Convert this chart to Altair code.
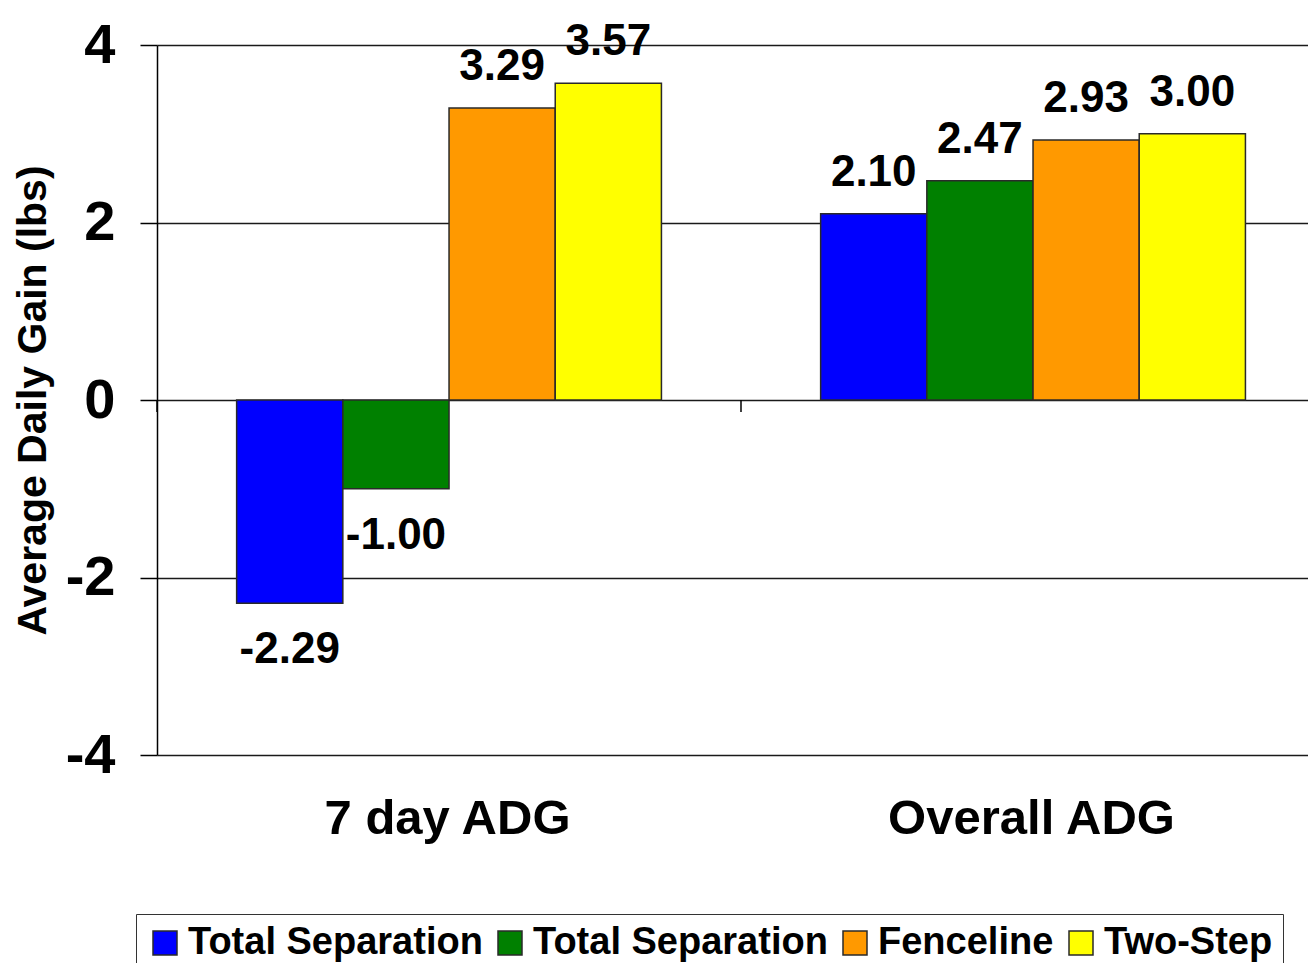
import altair as alt
import pandas as pd

categories = ["7 day ADG", "Overall ADG"]
series = ["Total Separation", "Total Separation", "Fenceline", "Two-Step"]
colors = ["#0000FF", "#008000", "#FF9900", "#FFFF00"]
values_7day = [-2.29, -1.00, 3.29, 3.57]
values_overall = [2.10, 2.47, 2.93, 3.00]
y_ticks = [-4, -2, 0, 2, 4]
y_title = "Average Daily Gain (lbs)"

keys = [f"s{i}" for i in range(len(series))]
rows = []
for cat, vals in zip(categories, [values_7day, values_overall]):
    for k, name, v in zip(keys, series, vals):
        rows.append({"category": cat, "key": k, "series": name, "value": v})
df = pd.DataFrame(rows)
cat_df = pd.DataFrame({"category": categories})

label_map = "{" + ",".join(f"'{k}':'{n}'" for k, n in zip(keys, series)) + "}"

FONT = "Liberation Sans, Arial, sans-serif"

# category step a bit wider than half of the visible plot (the right end runs off the page)
x_scale = alt.Scale(paddingInner=0.0291, paddingOuter=0, align=0)
y_scale = alt.Scale(domain=[-4, 4], nice=False, zero=False)
xo_scale = alt.Scale(domain=keys, paddingInner=0, paddingOuter=0.6695, align=0.56)

x_axis = alt.Axis(title=None, domain=False, ticks=False, tickSize=0,
                  labelAngle=0, labelFont=FONT, labelFontSize=49,
                  labelFontWeight="bold", labelColor="black",
                  labelBaseline="alphabetic", labelPadding=78,
                  labelOffset=7, labelLimit=0)
y_axis = alt.Axis(values=y_ticks, title=y_title,
                  labelExpr="(datum.value < 0 ? '-' : '') + format(abs(datum.value), 'd')",
                  labelFont=FONT, labelFontSize=56,
                  labelFontWeight="bold", labelColor="black",
                  labelPadding=25, tickSize=17, tickColor="black",
                  tickWidth=1.5, domainColor="black", domainWidth=1.5,
                  grid=True, gridColor="#1a1a1a", gridWidth=1.5,
                  titleFont=FONT, titleFontSize=41,
                  titleFontWeight="bold", titleColor="black",
                  titlePadding=11)

X = alt.X("category:N", sort=categories, scale=x_scale, axis=x_axis)
XO = alt.XOffset("key:N", sort=keys, scale=xo_scale)
Y = alt.Y("value:Q", scale=y_scale, axis=y_axis)

base = alt.Chart(df).transform_calculate(
    lbl="(datum.value < 0 ? '-' : '') + format(abs(datum.value), '.2f')"
)

bars = base.mark_bar(stroke="#2a2a2a", strokeWidth=1.5).encode(
    x=X, xOffset=XO, y=Y,
    color=alt.Color("key:N", scale=alt.Scale(domain=keys, range=colors),
                    legend=alt.Legend(
                        title=None, orient="none", legendX=-21, legendY=869,
                        direction="horizontal", labelExpr=f"{label_map}[datum.value]",
                        labelFont=FONT, labelFontSize=38, labelFontWeight="bold",
                        labelColor="black", labelLimit=0, labelOffset=4,
                        columnPadding=8, padding=10,
                        symbolType="square", symbolSize=576,
                        symbolStrokeColor="#2a2a2a", symbolStrokeWidth=1.5,
                        strokeColor="#333333", fillColor="white")),
)

text_common = dict(font=FONT, fontSize=44, fontWeight="bold", color="black", align="center")

pos_labels = base.transform_filter("datum.value >= 0").mark_text(
    baseline="alphabetic", dy=-28, **text_common
).encode(x=X, xOffset=XO, y=Y, text="lbl:N")

neg_labels = base.transform_filter("datum.value < 0").mark_text(
    baseline="top", dy=25, **text_common
).encode(x=X, xOffset=XO, y=Y, text="lbl:N")

cat_ticks = alt.Chart(cat_df).mark_rule(color="black", strokeWidth=1.5).encode(
    x=alt.X("category:N", sort=categories, scale=x_scale, axis=x_axis, bandPosition=0),
    y=alt.datum(0, axis=y_axis, scale=y_scale),
    y2=alt.datum(-0.135),
)

chart = alt.layer(bars, cat_ticks, pos_labels, neg_labels).properties(
    width=1151, height=710,
    autosize=alt.AutoSizeParams(type="none"),
    padding={"left": 149, "top": 37, "right": 0, "bottom": 208},
    background="white",
).configure_view(stroke=None)

chart.save("out.html", embed_options={"renderer": "svg", "actions": False})
